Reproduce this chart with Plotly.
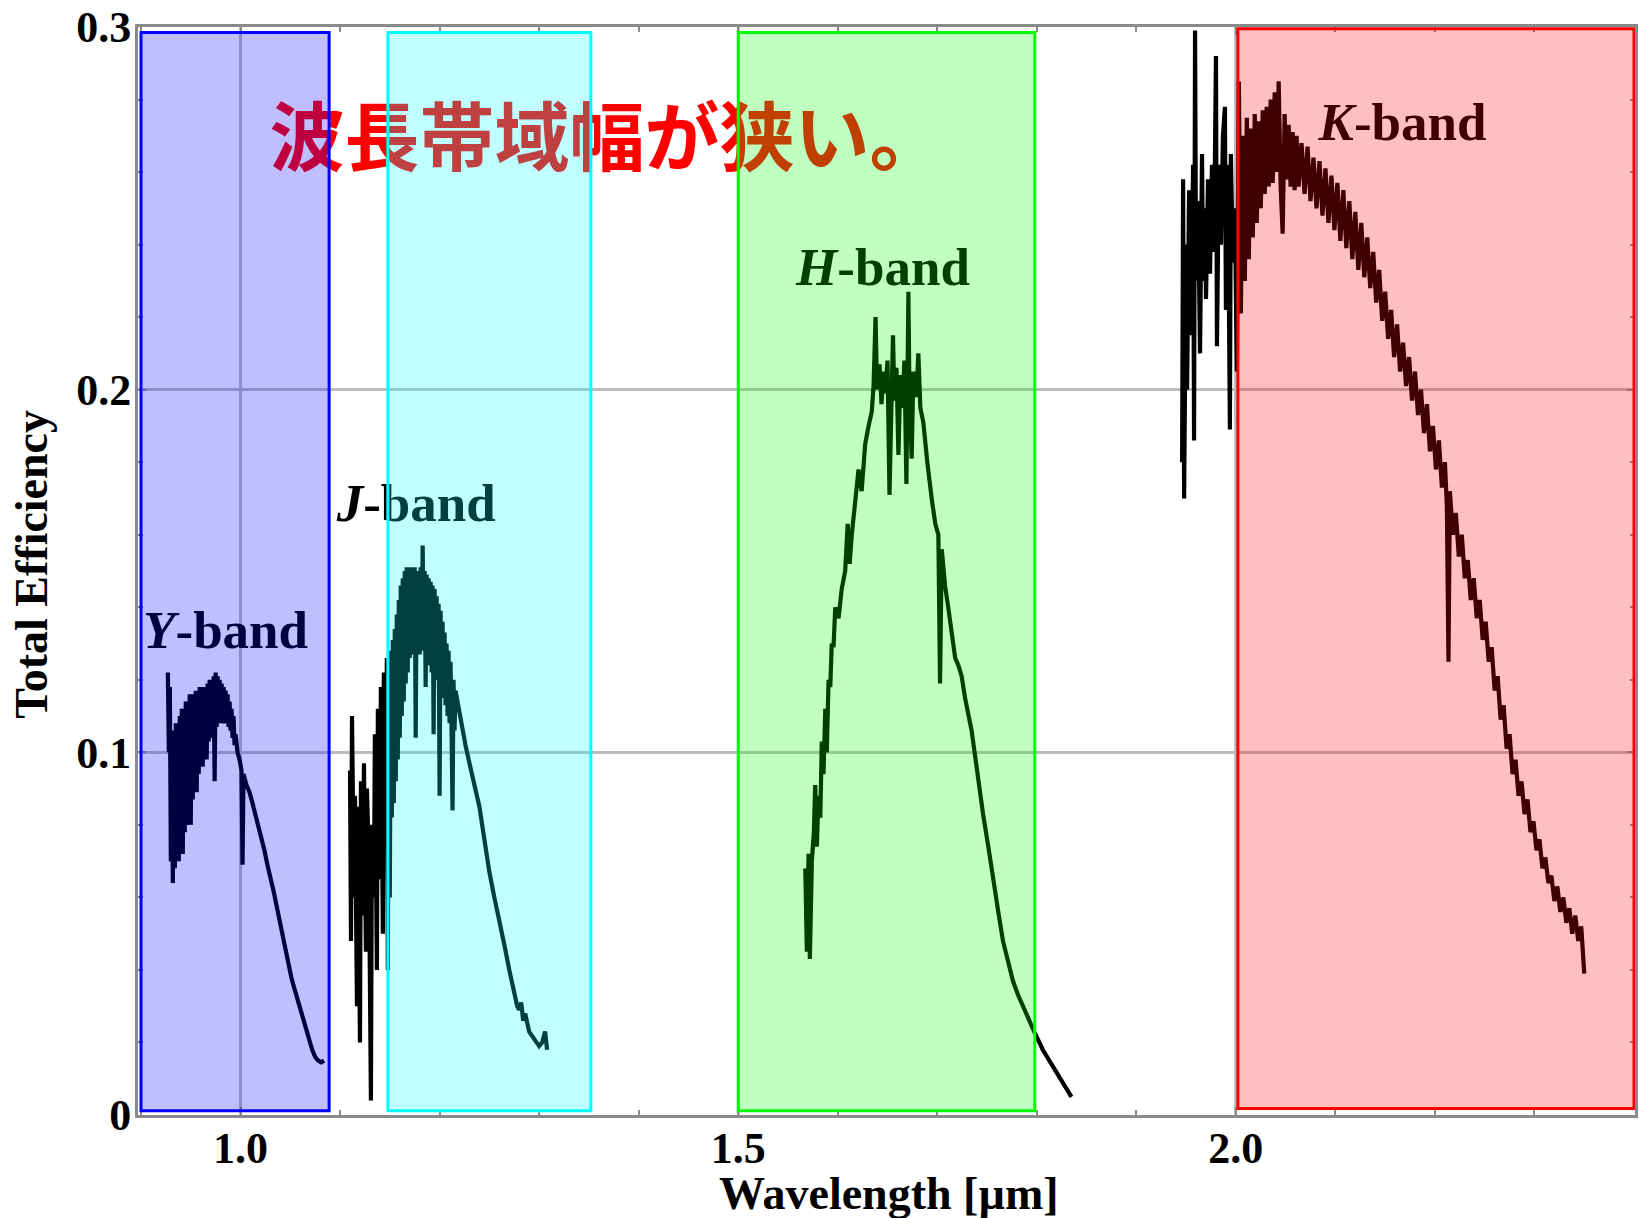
import plotly.graph_objects as go

# ---- Y-band throughput (wavelength in micron, total efficiency) ----
y_wl = [0.927, 0.928, 0.929, 0.930, 0.931, 0.932, 0.933, 0.934, 0.935, 0.936, 0.937, 0.938, 0.939,
        0.940, 0.941, 0.942, 0.943, 0.944, 0.945, 0.946, 0.947, 0.948, 0.949, 0.950, 0.951, 0.952,
        0.953, 0.954, 0.955, 0.956, 0.957, 0.958, 0.959, 0.960, 0.961, 0.962, 0.963, 0.964, 0.965,
        0.966, 0.967, 0.968, 0.969, 0.970, 0.971, 0.972, 0.973, 0.974, 0.975, 0.976, 0.977, 0.978,
        0.979, 0.980, 0.981, 0.982, 0.983, 0.984, 0.985, 0.986, 0.987, 0.988, 0.989, 0.990, 0.991,
        0.992, 0.993, 0.994, 0.995, 0.997, 0.999, 1.001, 1.002, 1.003, 1.006, 1.009, 1.012, 1.015,
        1.018, 1.021, 1.024, 1.027, 1.030, 1.033, 1.036, 1.039, 1.042, 1.045, 1.048, 1.051, 1.054,
        1.057, 1.060, 1.063, 1.066, 1.069, 1.072, 1.075, 1.078, 1.081, 1.084]
y_eff = [0.122, 0.100, 0.118, 0.070, 0.106, 0.064, 0.104, 0.068, 0.108, 0.072, 0.107, 0.070, 0.110,
         0.075, 0.112, 0.072, 0.111, 0.078, 0.114, 0.080, 0.113, 0.083, 0.116, 0.080, 0.115, 0.087,
         0.116, 0.090, 0.117, 0.089, 0.116, 0.094, 0.118, 0.097, 0.117, 0.096, 0.118, 0.100, 0.118,
         0.098, 0.119, 0.103, 0.120, 0.104, 0.119, 0.106, 0.121, 0.092, 0.122, 0.107, 0.121, 0.108,
         0.120, 0.109, 0.119, 0.108, 0.118, 0.109, 0.117, 0.108, 0.116, 0.107, 0.114, 0.106, 0.112,
         0.104, 0.110, 0.102, 0.105, 0.100, 0.098, 0.095, 0.069, 0.094, 0.091, 0.089, 0.086, 0.083,
         0.080, 0.077, 0.073, 0.069, 0.066, 0.062, 0.058, 0.054, 0.049, 0.045, 0.041, 0.038, 0.035,
         0.032, 0.029, 0.026, 0.023, 0.020, 0.018, 0.016, 0.015, 0.0145, 0.015]

# ---- J-band throughput ----
j_wl = [1.110, 1.111, 1.112, 1.114, 1.115, 1.117, 1.118, 1.120, 1.121, 1.123, 1.124, 1.126, 1.127,
        1.129, 1.131, 1.132, 1.134, 1.135, 1.137, 1.138, 1.140, 1.141, 1.143, 1.144, 1.146, 1.147,
        1.148, 1.149, 1.150, 1.151, 1.152, 1.153, 1.154, 1.155, 1.156, 1.157, 1.158, 1.159, 1.160,
        1.161, 1.162, 1.163, 1.164, 1.165, 1.166, 1.167, 1.168, 1.169, 1.170, 1.171, 1.172, 1.173,
        1.174, 1.175, 1.176, 1.177, 1.178, 1.179, 1.180, 1.181, 1.182, 1.183, 1.184, 1.185, 1.186,
        1.187, 1.188, 1.189, 1.190, 1.191, 1.192, 1.193, 1.194, 1.195, 1.196, 1.197, 1.198, 1.199,
        1.200, 1.201, 1.202, 1.203, 1.204, 1.205, 1.206, 1.207, 1.208, 1.209, 1.210, 1.211, 1.212,
        1.213, 1.214, 1.215, 1.216, 1.219, 1.223, 1.226, 1.230, 1.235, 1.240, 1.245, 1.250, 1.255,
        1.260, 1.265, 1.270, 1.275, 1.278, 1.280, 1.282, 1.284, 1.286, 1.290, 1.295, 1.300, 1.303,
        1.306, 1.308]
j_eff = [0.095, 0.048, 0.110, 0.060, 0.088, 0.030, 0.085, 0.020, 0.092, 0.055, 0.097, 0.045, 0.090,
         0.070, 0.004, 0.080, 0.060, 0.105, 0.040, 0.112, 0.065, 0.118, 0.050, 0.122, 0.085, 0.126,
         0.040, 0.124, 0.060, 0.128, 0.082, 0.131, 0.086, 0.134, 0.092, 0.138, 0.098, 0.142, 0.104,
         0.146, 0.110, 0.148, 0.114, 0.150, 0.119, 0.151, 0.122, 0.150, 0.126, 0.151, 0.128, 0.150,
         0.127, 0.151, 0.104, 0.150, 0.128, 0.150, 0.127, 0.151, 0.129, 0.157, 0.128, 0.150, 0.118,
         0.149, 0.126, 0.148, 0.124, 0.147, 0.122, 0.146, 0.105, 0.145, 0.122, 0.143, 0.120, 0.141,
         0.088, 0.139, 0.118, 0.136, 0.115, 0.133, 0.113, 0.130, 0.110, 0.128, 0.108, 0.125, 0.107,
         0.084, 0.120, 0.106, 0.117, 0.112, 0.107, 0.102, 0.097, 0.091, 0.085, 0.076, 0.067, 0.060,
         0.054, 0.047, 0.040, 0.034, 0.030, 0.029, 0.031, 0.026, 0.028, 0.023, 0.021, 0.019, 0.020,
         0.023, 0.018]

# ---- H-band throughput ----
h_wl = [1.5674, 1.5690, 1.5707, 1.5720, 1.5740, 1.5760, 1.5774, 1.5790, 1.5807, 1.5825, 1.5840,
        1.5857, 1.5875, 1.5890, 1.5908, 1.5925, 1.5940, 1.5958, 1.5975, 1.6008, 1.6040, 1.6075,
        1.6100, 1.6120, 1.6141, 1.6170, 1.6209, 1.6240, 1.6276, 1.6310, 1.6342, 1.6360, 1.6380,
        1.6395, 1.6420, 1.6440, 1.6460, 1.6476, 1.6500, 1.6520, 1.6540, 1.6555, 1.6570, 1.6590,
        1.6610, 1.6630, 1.6650, 1.6670, 1.6690, 1.6710, 1.6720, 1.6743, 1.6760, 1.6790, 1.6810,
        1.6830, 1.6860, 1.6877, 1.6900, 1.6944, 1.6980, 1.7011, 1.7028, 1.7045, 1.7078, 1.7110,
        1.7145, 1.7180, 1.7212, 1.7245, 1.7279, 1.7310, 1.7345, 1.7380, 1.7412, 1.7460, 1.7513,
        1.7560, 1.7613, 1.7660, 1.7713, 1.7760, 1.7813, 1.7890, 1.7974, 1.8060, 1.8147, 1.8250,
        1.8348]
h_eff = [0.068, 0.045, 0.072, 0.043, 0.070, 0.078, 0.091, 0.074, 0.088, 0.082, 0.103,
         0.094, 0.112, 0.100, 0.120, 0.118, 0.130, 0.129, 0.140, 0.137, 0.145, 0.150,
         0.163, 0.152, 0.160, 0.169, 0.178, 0.172, 0.185, 0.190, 0.194, 0.201, 0.220,
         0.200, 0.207, 0.196, 0.205, 0.199, 0.208, 0.171, 0.203, 0.215, 0.197, 0.206,
         0.182, 0.204, 0.195, 0.208, 0.174, 0.227, 0.200, 0.181, 0.205, 0.198, 0.210,
         0.195, 0.191, 0.186, 0.180, 0.170, 0.163, 0.160, 0.119, 0.156, 0.146, 0.140,
         0.132, 0.126, 0.124, 0.121, 0.115, 0.111, 0.106, 0.099, 0.092, 0.083, 0.074,
         0.065, 0.056, 0.048, 0.042, 0.037, 0.033, 0.028, 0.023, 0.018, 0.014, 0.009,
         0.005]

# ---- K-band throughput ----
k_wl = [1.946, 1.947, 1.948, 1.950, 1.951, 1.953, 1.955, 1.957, 1.958, 1.959, 1.960, 1.962, 1.964,
        1.966, 1.967, 1.969, 1.970, 1.972, 1.974, 1.976, 1.978, 1.980, 1.981, 1.983, 1.985, 1.987,
        1.989, 1.990, 1.992, 1.994, 1.995, 1.997, 1.999, 2.001, 2.003, 2.005, 2.007, 2.009, 2.011,
        2.013, 2.015, 2.017, 2.019, 2.021, 2.023, 2.025, 2.027, 2.029, 2.031, 2.033, 2.035, 2.037,
        2.039, 2.041, 2.043, 2.045, 2.047, 2.049, 2.051, 2.053, 2.055, 2.057, 2.059, 2.061, 2.063,
        2.066, 2.069, 2.072, 2.075, 2.078, 2.081, 2.084, 2.087, 2.090, 2.093, 2.096, 2.099, 2.102,
        2.105, 2.108, 2.111, 2.114, 2.117, 2.120, 2.123, 2.126, 2.129, 2.132, 2.135, 2.138, 2.141,
        2.144, 2.147, 2.150, 2.153, 2.156, 2.159, 2.162, 2.165, 2.168, 2.171, 2.174, 2.177, 2.180,
        2.183, 2.186, 2.189, 2.192, 2.195, 2.198, 2.201, 2.204, 2.207, 2.210, 2.212, 2.2136, 2.215,
        2.218, 2.221, 2.224, 2.227, 2.230, 2.233, 2.236, 2.239, 2.242, 2.245, 2.248, 2.251, 2.254,
        2.257, 2.260, 2.263, 2.266, 2.269, 2.272, 2.275, 2.278, 2.281, 2.284, 2.287, 2.290, 2.293,
        2.296, 2.299, 2.302, 2.305, 2.308, 2.311, 2.314, 2.317, 2.320, 2.323, 2.326, 2.329, 2.332,
        2.335, 2.338, 2.341, 2.344, 2.347, 2.349, 2.350]
k_eff = [0.180, 0.258, 0.170, 0.240, 0.200, 0.255, 0.215, 0.262, 0.186, 0.299, 0.230, 0.252, 0.210,
         0.265, 0.230, 0.250, 0.225, 0.258, 0.232, 0.262, 0.238, 0.292, 0.212, 0.262, 0.240, 0.270,
         0.278, 0.222, 0.262, 0.189, 0.265, 0.235, 0.250, 0.205, 0.285, 0.221, 0.270, 0.230, 0.275,
         0.236, 0.272, 0.242, 0.276, 0.246, 0.274, 0.250, 0.277, 0.254, 0.278, 0.256, 0.280, 0.257,
         0.282, 0.260, 0.285, 0.256, 0.243, 0.276, 0.258, 0.273, 0.256, 0.271, 0.255, 0.270, 0.256,
         0.268, 0.254, 0.267, 0.252, 0.264, 0.250, 0.263, 0.248, 0.261, 0.246, 0.259, 0.244, 0.257,
         0.241, 0.255, 0.239, 0.252, 0.236, 0.249, 0.233, 0.246, 0.231, 0.242, 0.228, 0.238, 0.224,
         0.233, 0.219, 0.227, 0.214, 0.222, 0.209, 0.218, 0.205, 0.213, 0.201, 0.209, 0.197, 0.205,
         0.193, 0.200, 0.188, 0.196, 0.183, 0.190, 0.178, 0.186, 0.173, 0.180, 0.168, 0.125, 0.172,
         0.160, 0.166, 0.154, 0.160, 0.148, 0.153, 0.142, 0.148, 0.137, 0.142, 0.131, 0.136, 0.125,
         0.129, 0.117, 0.121, 0.109, 0.113, 0.101, 0.105, 0.094, 0.098, 0.088, 0.092, 0.083, 0.087,
         0.078, 0.081, 0.073, 0.076, 0.068, 0.071, 0.064, 0.066, 0.059, 0.063, 0.056, 0.060, 0.053,
         0.057, 0.050, 0.055, 0.048, 0.052, 0.042, 0.039]

# ---- band windows: name, wavelength span, efficiency span, edge colour, fill colour ----
band_names = ["Y", "J", "H", "K"]
band_lo = [0.9, 1.148, 1.5, 2.002]
band_hi = [1.089, 1.352, 1.798, 2.4]
band_ylo = [0.0012, 0.0012, 0.0012, 0.0018]
band_yhi = [0.2985, 0.2985, 0.2985, 0.2995]
band_edge = ["#0000FF", "#00FFFF", "#00FF00", "#FF0000"]
band_fill = ["rgba(0,0,255,0.25)", "rgba(0,255,255,0.25)",
             "rgba(0,255,0,0.25)", "rgba(255,0,0,0.25)"]

# band label placement (wavelength, efficiency)
label_text = ["<b><i>Y</i>-band</b>", "<b><i>J</i>-band</b>",
              "<b><i>H</i>-band</b>", "<b><i>K</i>-band</b>"]
label_x = [0.985, 1.1765, 1.6455, 2.1675]
label_y = [0.1325, 0.1675, 0.2325, 0.2725]

note_text = "波長帯域幅が狭い。"
note_x = 1.029
note_y = 0.2672

x_ticks = [1.0, 1.5, 2.0]
x_ticktext = ["1.0", "1.5", "2.0"]
y_ticks = [0.0, 0.1, 0.2, 0.3]
y_ticktext = ["0", "0.1", "0.2", "0.3"]

SERIF = "Liberation Serif"

fig = go.Figure()

for wl, eff in [(y_wl, y_eff), (j_wl, j_eff), (h_wl, h_eff), (k_wl, k_eff)]:
    fig.add_trace(go.Scatter(x=wl, y=eff, mode="lines",
                             line=dict(color="black", width=4.2),
                             hoverinfo="skip", showlegend=False))

fig.add_trace(go.Scatter(x=label_x, y=label_y, mode="text", text=label_text,
                         textposition="middle center",
                         textfont=dict(family=SERIF, size=53, color="black"),
                         hoverinfo="skip", showlegend=False))

fig.add_trace(go.Scatter(x=[note_x], y=[note_y], mode="text", text=[note_text],
                         textposition="middle right",
                         textfont=dict(family="Noto Sans CJK JP", size=75, color="#FF0000",
                                       weight="bold"),
                         hoverinfo="skip", showlegend=False))

# translucent band windows drawn over the curves and text
for lo, hi, ylo, yhi, edge, fill in zip(band_lo, band_hi, band_ylo, band_yhi, band_edge, band_fill):
    fig.add_shape(type="rect", xref="x", yref="y", x0=lo, x1=hi, y0=ylo, y1=yhi,
                  line=dict(color=edge, width=3), fillcolor=fill, layer="above")

axis_common = dict(
    showline=True, linecolor="#8a8a8a", linewidth=3, mirror="ticks",
    ticks="inside", ticklen=8, tickwidth=2, tickcolor="#8a8a8a",
    showgrid=True, gridcolor="#bcbcbc", gridwidth=2.5, zeroline=False,
    tickfont=dict(family=SERIF, size=44, color="black", weight="bold"),
)

fig.update_xaxes(range=[0.897, 2.401], tickmode="array", tickvals=x_ticks, ticktext=x_ticktext,
                 minor=dict(dtick=0.1, tick0=0.0, ticks="inside", ticklen=5, tickwidth=1.5,
                            tickcolor="#8a8a8a", showgrid=False),
                 ticklabelstandoff=-8, **axis_common)
fig.update_yaxes(range=[0.0, 0.3], tickmode="array", tickvals=y_ticks, ticktext=y_ticktext,
                 minor=dict(dtick=0.02, tick0=0.0, ticks="inside", ticklen=5, tickwidth=1.5,
                            tickcolor="#8a8a8a", showgrid=False),
                 ticklabelstandoff=-5, **axis_common)

fig.add_annotation(text="<b>Wavelength [µm]</b>", xref="paper", yref="paper",
                   x=0.502, y=-0.0725, xanchor="center", yanchor="middle", showarrow=False,
                   font=dict(family=SERIF, size=46, color="black"))
fig.add_annotation(text="<b>Total Efficiency</b>", xref="paper", yref="paper",
                   x=-0.0713, y=0.506, xanchor="center", yanchor="middle", showarrow=False,
                   textangle=-90, font=dict(family=SERIF, size=46, color="black"))

fig.update_layout(
    width=1639, height=1218,
    margin=dict(l=138, r=1, t=27, b=103),
    paper_bgcolor="white", plot_bgcolor="white",
    showlegend=False,
)

fig.write_html("out.html")
